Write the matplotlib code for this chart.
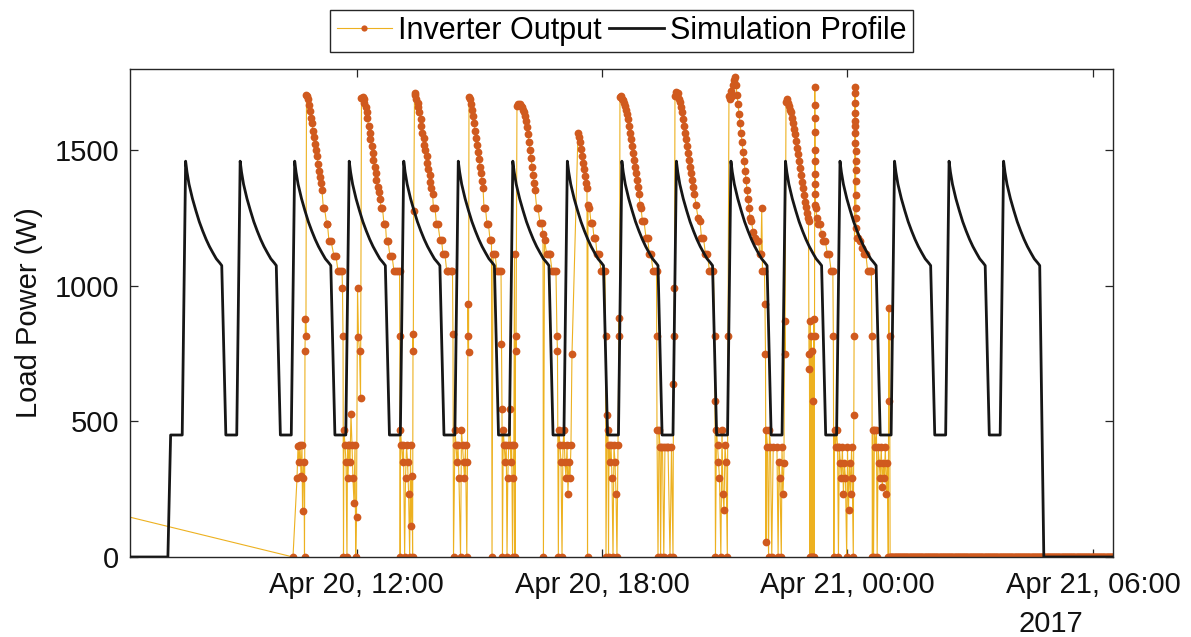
import numpy as np
import matplotlib
matplotlib.use("Agg")
import matplotlib.pyplot as plt
import matplotlib.dates as mdates
from datetime import datetime, timedelta

plt.rcParams['font.family'] = ['Liberation Sans', 'DejaVu Sans']

# ---------------------------------------------------------------------------
# Data (times are minutes after 2017-04-20 06:00, powers in watts)
# ---------------------------------------------------------------------------
t_origin = datetime(2017, 4, 20, 6, 0)
view_start_min, view_end_min = 27.4, 1469.5

# Simulation profile: idle lead-in, then a repeating 80-minute load cycle
profile_lead_min = [27.4, 83, 87, 104]
profile_lead_w = [0, 0, 450, 450]
cycle_offset_min = [0, 2, 5, 10, 15, 20, 25, 30, 35, 40, 45, 50, 53, 59, 75]
cycle_w = [1460, 1420, 1375, 1322, 1278, 1237, 1203, 1172, 1145, 1122, 1100,
           1085, 1075, 450, 450]
first_peak_min = 109
cycle_period_min = 80
n_cycles = 16
profile_tail_min = [1368, 1469.5]
profile_tail_w = [0, 0]

# Inverter log
inv_before = [(-90, 219)]
inv_cycle_01 = [
    (266.5, 0), (272.4, 290), (273.9, 410), (275.3, 350), (276.8, 412), (278.3, 300),
    (279.7, 412), (280.5, 170), (281.2, 290), (282.6, 350), (283.4, 0), (284.1, 761),
    (284.8, 878), (285.5, 816), (286.3, 1705), (287.1, 1700), (288.5, 1690), (290.0, 1668),
    (291.5, 1645), (293.0, 1620), (294.4, 1600), (295.9, 1572), (297.3, 1550), (298.8, 1525),
    (300.3, 1500), (301.7, 1478), (303.2, 1450), (304.7, 1425), (306.1, 1400), (307.6, 1378),
    (309.1, 1352), (311.0, 1288), (312.7, 1288), (316.0, 1227), (317.1, 1227), (319.3, 1165),
    (322.3, 1165), (326.7, 1110), (329.6, 1110), (332.5, 1055), (335.5, 1055), (338.4, 1055),
    (339.1, 994), (339.9, 816), (340.6, 0)]
inv_cycle_02 = [
    (341.3, 467), (342.8, 412), (344.3, 350), (345.7, 0), (346.5, 412), (347.2, 290),
    (348.7, 412), (350.2, 350), (351.6, 528), (353.1, 412), (354.5, 290), (356.0, 199),
    (357.5, 412), (358.5, 0), (359.7, 147), (361.2, 994), (362.6, 810), (364.1, 761),
    (365.6, 585), (367.0, 1692), (368.5, 1695), (370.0, 1688), (371.4, 1675), (372.9, 1660),
    (374.4, 1640), (375.8, 1618), (377.3, 1590), (378.8, 1565), (380.2, 1540), (381.7, 1515),
    (383.2, 1490), (384.6, 1465), (386.1, 1440), (387.6, 1415), (389.0, 1390), (390.5, 1365),
    (392.0, 1345), (394.2, 1320), (395.6, 1288), (397.8, 1288), (400.0, 1227), (402.2, 1227),
    (403.7, 1165), (405.9, 1165), (408.8, 1110), (411.8, 1110), (414.7, 1055), (417.6, 1055),
    (420.6, 1055), (422.8, 1055), (423.2, 816), (423.7, 0)]
inv_cycle_03 = [
    (424.2, 467), (425.7, 412), (427.2, 350), (428.6, 412), (430.3, 0), (431.6, 290),
    (433.1, 412), (434.6, 350), (436.1, 233), (437.7, 0), (439.0, 412), (439.6, 113),
    (441.1, 300), (442.0, 0), (442.6, 822), (443.0, 761), (443.6, 1276), (444.8, 1712),
    (446.2, 1705), (447.7, 1690), (449.2, 1675), (450.6, 1660), (452.1, 1640), (453.6, 1615),
    (455.0, 1590), (456.5, 1565), (458.0, 1545), (459.4, 1520), (460.9, 1500), (462.4, 1478),
    (463.8, 1455), (465.3, 1430), (466.8, 1410), (468.2, 1385), (469.7, 1362), (471.2, 1340),
    (472.6, 1288), (474.8, 1288), (477.0, 1227), (479.2, 1227), (482.2, 1171), (484.4, 1171),
    (486.6, 1116), (489.5, 1116), (492.0, 1055), (494.6, 1055), (497.6, 1055), (500.5, 1055),
    (501.2, 822), (502.0, 0)]
inv_cycle_04 = [
    (504.2, 467), (505.7, 412), (507.1, 350), (508.6, 412), (510.0, 290), (512.3, 0),
    (513.7, 467), (515.2, 412), (516.7, 350), (518.1, 290), (519.6, 412), (521.5, 0),
    (522.5, 350), (523.3, 933), (523.7, 816), (524.1, 755), (524.7, 1698), (526.2, 1690),
    (527.7, 1672), (529.1, 1650), (530.6, 1625), (532.1, 1600), (533.5, 1572), (535.0, 1545),
    (536.5, 1520), (537.9, 1495), (539.4, 1468), (540.9, 1440), (542.3, 1415), (543.8, 1388),
    (545.3, 1362), (546.7, 1288), (548.9, 1288), (551.1, 1227), (553.3, 1227), (555.5, 1171),
    (557.7, 1171), (558.5, 0), (560.0, 1116), (562.9, 1116), (565.8, 1055), (568.7, 1055),
    (571.7, 1055), (572.4, 785), (573.1, 546), (573.8, 0)]
inv_cycle_05 = [
    (575.0, 467), (576.4, 412), (577.9, 350), (579.4, 412), (580.5, 0), (581.6, 290),
    (583.0, 412), (584.5, 546), (586.0, 350), (587.4, 412), (588.6, 0), (589.6, 290),
    (590.5, 412), (591.5, 1116), (592.3, 0), (593.0, 816), (593.7, 761), (595.1, 1665),
    (596.6, 1672), (598.1, 1668), (599.5, 1672), (601.0, 1665), (602.5, 1660), (603.9, 1650),
    (605.4, 1640), (606.9, 1628), (608.3, 1610), (609.8, 1585), (611.3, 1560), (612.7, 1530),
    (614.2, 1500), (615.7, 1470), (617.1, 1440), (618.6, 1410), (620.1, 1380), (621.5, 1355),
    (624.0, 1288), (625.9, 1288), (628.9, 1232), (631.1, 1232), (633.3, 1190), (633.9, 0),
    (635.5, 1171), (638.7, 1116), (641.4, 1116), (643.6, 1116), (646.5, 1055), (649.4, 1055),
    (652.3, 1055), (653.8, 816), (654.5, 761), (655.8, 0)]
inv_cycle_06 = [
    (656.7, 467), (658.2, 412), (659.7, 350), (661.2, 0), (662.6, 412), (664.1, 467),
    (665.5, 350), (667.0, 290), (668.5, 412), (669.9, 233), (671.4, 350), (672.9, 290),
    (674.3, 412), (675.8, 749), (684.6, 1563), (686.1, 1550), (687.6, 1530), (689.0, 1505),
    (690.5, 1480), (692.0, 1455), (693.4, 1430), (694.9, 1405), (696.4, 1380), (697.8, 1361),
    (698.6, 0), (699.3, 1300), (701.5, 1288), (703.7, 1232), (705.9, 1232), (708.1, 1178),
    (710.3, 1178), (712.5, 1116), (715.4, 1116), (718.4, 1055), (721.3, 1055), (724.2, 1055),
    (725.0, 816), (725.7, 0)]
inv_cycle_07 = [
    (727.2, 522), (728.6, 467), (729.4, 0), (730.1, 412), (731.6, 350), (733.1, 412),
    (734.5, 290), (736.0, 0), (737.4, 412), (738.9, 350), (740.4, 233), (741.8, 0),
    (743.3, 412), (744.8, 880), (745.5, 816), (746.2, 1695), (747.7, 1700), (749.2, 1690),
    (750.6, 1685), (752.1, 1675), (753.6, 1665), (755.0, 1650), (756.5, 1635), (758.0, 1615),
    (759.4, 1590), (760.9, 1565), (762.4, 1540), (763.8, 1515), (765.3, 1490), (766.8, 1465),
    (768.2, 1440), (769.7, 1415), (771.2, 1390), (772.6, 1365), (774.1, 1340), (775.6, 1300),
    (777.0, 1288), (779.2, 1239), (781.4, 1239), (784.4, 1178), (786.6, 1178), (789.5, 1116),
    (791.7, 1116), (794.7, 1055), (797.6, 1055), (799.8, 1055), (800.1, 816), (800.5, 467),
    (802.0, 0)]
inv_cycle_08 = [
    (803.5, 467), (804.9, 405), (805.8, 0), (807.1, 405), (808.6, 405), (810.5, 0),
    (812.2, 405), (814.5, 405), (816.7, 405), (819.6, 0), (821.8, 405), (824.0, 0),
    (824.7, 638), (825.5, 816), (826.2, 994), (826.9, 1700), (828.4, 1715), (829.9, 1700),
    (831.3, 1710), (832.8, 1690), (834.3, 1680), (835.7, 1660), (837.2, 1640), (838.7, 1615),
    (840.1, 1590), (841.6, 1565), (843.1, 1540), (844.5, 1515), (846.0, 1490), (847.5, 1465),
    (848.9, 1440), (850.4, 1415), (851.9, 1390), (853.3, 1365), (855.5, 1340), (857.7, 1300),
    (860.7, 1251), (863.6, 1239), (865.8, 1178), (868.7, 1178), (871.6, 1116), (874.6, 1116),
    (877.5, 1055), (880.4, 1055), (883.4, 1055), (884.9, 816), (885.6, 577), (886.3, 0)]
inv_cycle_09 = [
    (887.8, 467), (889.3, 412), (890.7, 350), (892.2, 290), (894.2, 0), (895.9, 467),
    (897.3, 233), (898.8, 172), (900.3, 412), (901.7, 350), (903.7, 0), (904.7, 816),
    (906.1, 1700), (907.6, 1690), (909.1, 1720), (910.5, 1700), (912.0, 1740), (913.5, 1760),
    (914.9, 1770), (916.4, 1740), (917.9, 1705), (919.3, 1670), (920.8, 1635), (922.3, 1600),
    (923.7, 1565), (925.2, 1530), (926.7, 1495), (928.1, 1460), (929.6, 1425), (931.1, 1390),
    (932.5, 1355), (934.0, 1320), (935.5, 1288), (936.9, 1251), (939.1, 1239), (941.4, 1200),
    (944.3, 1178), (946.7, 1165), (949.4, 1165), (951.6, 1116), (953.0, 1116), (954.2, 1288),
    (955.3, 1055), (958.2, 1055), (958.9, 933), (959.7, 749), (960.4, 55)]
inv_cycle_10 = [
    (961.1, 467), (962.6, 405), (964.2, 0), (965.5, 467), (967.0, 405), (968.9, 0),
    (971.0, 405), (976.5, 405), (978.2, 0), (979.5, 350), (980.9, 290), (982.9, 0),
    (983.9, 405), (985.4, 233), (986.8, 345), (987.6, 871), (988.3, 749), (989.8, 1680),
    (991.2, 1690), (992.7, 1675), (994.2, 1665), (995.6, 1650), (997.1, 1640), (998.6, 1620),
    (1000.0, 1600), (1001.5, 1580), (1003.0, 1560), (1004.4, 1535), (1005.9, 1510),
    (1007.4, 1485), (1008.8, 1460), (1010.3, 1435), (1011.8, 1410), (1013.2, 1385),
    (1014.7, 1360), (1016.2, 1335), (1017.6, 1310), (1019.1, 1290), (1020.6, 1270),
    (1022.0, 1251), (1022.8, 1239), (1023.5, 749), (1024.2, 693), (1024.8, 0)]
inv_burst_a = [
    (1025.5, 871), (1026.2, 0), (1027.0, 816), (1027.6, 0), (1028.3, 761), (1029.0, 577),
    (1029.6, 0), (1030.4, 877), (1031.0, 0), (1031.6, 816), (1032.0, 1735), (1032.1, 1669),
    (1032.2, 1618), (1032.3, 1569), (1032.4, 1503), (1032.5, 1459), (1032.6, 1412),
    (1032.7, 1375), (1032.8, 1338), (1032.9, 1300), (1033.5, 1287), (1035.0, 1251),
    (1037.0, 1227), (1039.5, 1227), (1042.0, 1190), (1044.5, 1165), (1047.5, 1165),
    (1050.5, 1116), (1053.0, 1116), (1056.0, 1055), (1058.5, 1055), (1059.2, 816), (1060.0, 0)]
inv_cycle_11 = [
    (1061.0, 467), (1062.5, 405), (1064.0, 467), (1065.5, 405), (1066.7, 0), (1068.0, 405),
    (1069.5, 345), (1071.0, 290), (1072.5, 405), (1074.0, 233), (1075.5, 345), (1077.0, 290),
    (1078.8, 0), (1080.0, 405), (1081.5, 173), (1083.0, 345), (1084.5, 233), (1086.0, 405),
    (1087.0, 290), (1088.5, 0), (1089.3, 522), (1089.8, 816), (1091.0, 1735), (1091.1, 1710),
    (1091.2, 1675), (1091.3, 1638), (1091.4, 1607), (1091.5, 1588), (1091.6, 1564),
    (1091.7, 1527), (1091.8, 1496), (1091.9, 1459), (1092.0, 1429), (1092.1, 1386),
    (1092.2, 1337), (1092.3, 1288), (1092.4, 1251), (1092.5, 1214), (1093.5, 1178),
    (1096.0, 1178), (1099.0, 1165), (1101.0, 1141), (1104.0, 1116), (1107.0, 1116),
    (1109.5, 1055), (1112.5, 1055), (1115.0, 1055), (1115.8, 816), (1116.5, 0)]
inv_cycle_12 = [
    (1117.2, 467), (1118.2, 0), (1119.5, 467), (1121.0, 405), (1122.5, 467), (1123.5, 0),
    (1125.0, 405), (1126.5, 345), (1128.0, 290), (1129.5, 405), (1131.0, 258), (1132.5, 345),
    (1134.0, 290), (1135.5, 405), (1137.0, 233), (1138.5, 345), (1139.8, 0), (1140.6, 920),
    (1141.2, 577), (1141.8, 816), (1142.5, 0)]
# Inverter idle (reads 0 W) until the end of the record
idle_start_min, idle_end_min, log_step_min = 1143.0, 1470.0, 1.0
idle_w = 0

# ---------------------------------------------------------------------------
# Assemble series
# ---------------------------------------------------------------------------
def to_dt(minutes):
    return [t_origin + timedelta(minutes=float(m)) for m in minutes]

prof_min = list(profile_lead_min)
prof_w = list(profile_lead_w)
for k in range(n_cycles):
    start = first_peak_min + k * cycle_period_min
    last = (k == n_cycles - 1)
    stop = 13 if last else len(cycle_offset_min)
    prof_min += [start + o for o in cycle_offset_min[:stop]]
    prof_w += cycle_w[:stop]
prof_min += profile_tail_min
prof_w += profile_tail_w

inv_blocks = [inv_before, inv_cycle_01, inv_cycle_02, inv_cycle_03, inv_cycle_04,
              inv_cycle_05, inv_cycle_06, inv_cycle_07, inv_cycle_08, inv_cycle_09,
              inv_cycle_10, inv_burst_a, inv_cycle_11, inv_cycle_12]
inv_min = [p[0] for b in inv_blocks for p in b]
inv_w = [p[1] for b in inv_blocks for p in b]
idle_min = np.arange(idle_start_min, idle_end_min + 1e-9, log_step_min)
inv_min += list(idle_min)
inv_w += [idle_w] * len(idle_min)

# ---------------------------------------------------------------------------
# Figure
# ---------------------------------------------------------------------------
W, H = 1191, 637
fig = plt.figure(figsize=(W / 100, H / 100), dpi=100)
ax = fig.add_axes([130 / W, 1 - 557 / H, (1113 - 130) / W, (557 - 69) / H])

ax.plot(to_dt(inv_min), inv_w, color='#EDB120', lw=0.8, marker='o', ms=5.6,
        mfc='#D05A1E', mec='#D05A1E', mew=0, label='Inverter Output', zorder=2)
ax.plot(to_dt(prof_min), prof_w, color='#161616', lw=2.0,
        label='Simulation Profile', zorder=3)

ax.set_xlim(to_dt([view_start_min, view_end_min]))
ax.set_ylim(0, 1800)
ax.set_yticks([0, 500, 1000, 1500])
ax.xaxis.set_major_locator(mdates.HourLocator(byhour=[0, 6, 12, 18]))
ax.xaxis.set_major_formatter(mdates.DateFormatter('%b %d, %H:%M'))

ax.tick_params(direction='in', length=6, width=0.9, colors='#262626',
               labelsize=21, labelcolor='#111111', top=True, right=True)
ax.tick_params(axis='x', pad=10)
ax.tick_params(axis='y', pad=8)
for s in ax.spines.values():
    s.set_color('#262626')
    s.set_linewidth(1.0)

ax.set_ylabel('Load Power (W)', fontsize=21, color='#111111', labelpad=8)

fig.text(1051 / W, 1 - 624 / H, '2017', fontsize=21, color='#111111',
         ha='center', va='center')

leg = ax.legend(loc='lower center', bbox_to_anchor=(0.5, 1.035), ncol=2,
                fontsize=22, frameon=True, fancybox=False, framealpha=1,
                edgecolor='#262626', handlelength=1.8, handletextpad=0.2,
                columnspacing=0.25, borderpad=0.2, borderaxespad=0, numpoints=1,
                markerscale=0.8)
leg.get_frame().set_linewidth(1.0)

fig.savefig('out.png', dpi=100)
